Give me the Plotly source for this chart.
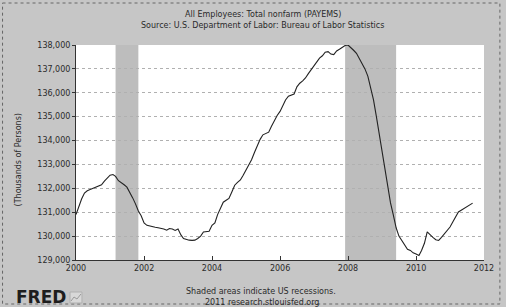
import pandas as pd
import plotly.graph_objects as go

# Monthly dates Jan 2000 .. Sep 2011
dates = pd.date_range("2000-01-01", "2011-09-01", freq="MS")

payems = [
    # 2000
    130900, 131250, 131550, 131800, 131900, 131950, 132000, 132050, 132100, 132150, 132300, 132420,
    # 2001
    132550, 132580, 132500, 132320, 132250, 132150, 132050, 131850, 131600, 131350, 131050, 130850,
    # 2002
    130550, 130450, 130420, 130380, 130370, 130350, 130330, 130300, 130250, 130320, 130300, 130240,
    # 2003
    130300, 130050, 129900, 129850, 129830, 129820, 129830, 129900, 130000, 130170, 130180, 130200,
    # 2004
    130450, 130550, 130900, 131150, 131420, 131500, 131580, 131850, 132130, 132250, 132350, 132550,
    # 2005
    132770, 133000, 133200, 133500, 133800, 134050, 134240, 134300, 134350, 134600, 134850, 135050,
    # 2006
    135220, 135450, 135700, 135860, 135900, 135950, 136250, 136400, 136500, 136620, 136800, 136950,
    # 2007
    137150, 137300, 137450, 137550, 137700, 137720, 137620, 137600, 137750, 137820, 137900, 137980,
    # 2008
    138000, 137900, 137780, 137650, 137450, 137200, 137000, 136700, 136200, 135700, 135000, 134250,
    # 2009
    133500, 132800, 132100, 131400, 130900, 130350, 130000, 129800, 129600, 129450, 129400, 129300,
    # 2010
    129250, 129190, 129400, 129700, 130180, 130050, 129950, 129850, 129820, 129950, 130100, 130250,
    # 2011
    130380, 130600, 130800, 131010, 131080, 131150, 131250, 131300, 131380,
]

recession_starts = ["2001-03-01", "2007-12-01"]
recession_ends = ["2001-11-01", "2009-06-01"]

x_tick_years = ["2000", "2002", "2004", "2006", "2008", "2010", "2012"]
y_ticks = [129000, 130000, 131000, 132000, 133000, 134000, 135000, 136000, 137000, 138000]

title_line1 = "All Employees: Total nonfarm (PAYEMS)"
title_line2 = "Source: U.S. Department of Labor: Bureau of Labor Statistics"
y_title = "(Thousands of Persons)"
note_line1 = "Shaded areas indicate US recessions."
note_line2 = "2011 research.stlouisfed.org"

W, H = 506, 307
L, R, T, B = 76, 19, 45, 47
PW, PH = W - L - R, H - T - B

def px(x):
    return (x - L) / PW

def py(y):
    return (H - B - y) / PH

FONT = "DejaVu Sans"
TXT = "#2a2a2a"

fig = go.Figure()
fig.add_trace(go.Scatter(
    x=dates, y=payems, mode="lines",
    line=dict(color="#222222", width=1.1),
    hoverinfo="skip", showlegend=False,
))

shapes = []
for s, e in zip(recession_starts, recession_ends):
    shapes.append(dict(type="rect", xref="x", yref="paper", x0=s, x1=e, y0=0, y1=1,
                       fillcolor="#bdbdbd", line=dict(width=0), layer="below"))
# outer dotted border
shapes.append(dict(type="rect", xref="paper", yref="paper",
                   x0=px(2), x1=px(503), y0=py(3), y1=py(304),
                   line=dict(color="#666666", width=1, dash="dot"), fillcolor="rgba(0,0,0,0)"))
# small FRED logo icon
shapes.append(dict(type="rect", xref="paper", yref="paper",
                   x0=px(70), x1=px(82), y0=py(303), y1=py(292),
                   line=dict(color="#b0b0b0", width=1), fillcolor="#d8d8d8"))
shapes.append(dict(type="path", xref="paper", yref="paper",
                   path=f"M {px(71)},{py(301)} L {px(74)},{py(297)} L {px(77)},{py(299)} L {px(81)},{py(294)}",
                   line=dict(color="#9a9a9a", width=1)))

annotations = [
    dict(text=title_line1, x=px(264), y=py(15), xref="paper", yref="paper", showarrow=False,
         font=dict(family=FONT, size=8, color=TXT), xanchor="center", yanchor="middle"),
    dict(text=title_line2, x=px(264), y=py(25), xref="paper", yref="paper", showarrow=False,
         font=dict(family=FONT, size=8, color=TXT), xanchor="center", yanchor="middle"),
    dict(text=y_title, x=px(18), y=py(160), xref="paper", yref="paper", showarrow=False,
         textangle=-90, font=dict(family=FONT, size=8, color=TXT), xanchor="center", yanchor="middle"),
    dict(text=note_line1, x=px(262), y=py(291), xref="paper", yref="paper", showarrow=False,
         font=dict(family=FONT, size=8, color=TXT), xanchor="center", yanchor="middle"),
    dict(text=note_line2, x=px(263), y=py(302), xref="paper", yref="paper", showarrow=False,
         font=dict(family=FONT, size=8, color=TXT), xanchor="center", yanchor="middle"),
    dict(text="<b>FRED</b>", x=px(14), y=py(297), xref="paper", yref="paper", showarrow=False,
         font=dict(family=FONT, size=17, color="#1e1e1e"), xanchor="left", yanchor="middle"),
]

fig.update_layout(
    width=W, height=H,
    margin=dict(l=L, r=R, t=T, b=B),
    paper_bgcolor="#c6c6c6",
    plot_bgcolor="#ffffff",
    shapes=shapes,
    annotations=annotations,
    font=dict(family=FONT, size=8, color=TXT),
    xaxis=dict(
        type="date",
        range=["2000-01-01", "2012-01-01"],
        tickvals=[y + "-01-01" for y in x_tick_years],
        ticktext=x_tick_years,
        ticks="inside", ticklen=4, tickcolor="#333333",
        showgrid=False, zeroline=False,
        showline=True, linecolor="#333333", linewidth=1,
        tickfont=dict(family=FONT, size=8, color=TXT),
    ),
    yaxis=dict(
        range=[129000, 138000],
        tickvals=y_ticks,
        tickformat=",d",
        ticks="outside", ticklen=3, tickcolor="#333333",
        showgrid=True, gridcolor="#b0b0b0", griddash="dot", gridwidth=1,
        zeroline=False,
        showline=True, linecolor="#333333", linewidth=1,
        tickfont=dict(family=FONT, size=8, color=TXT),
    ),
)

fig.write_html(
    "out.html",
    config={"displayModeBar": False},
    post_script="document.body.style.margin='0';document.body.style.overflow='hidden';",
)
